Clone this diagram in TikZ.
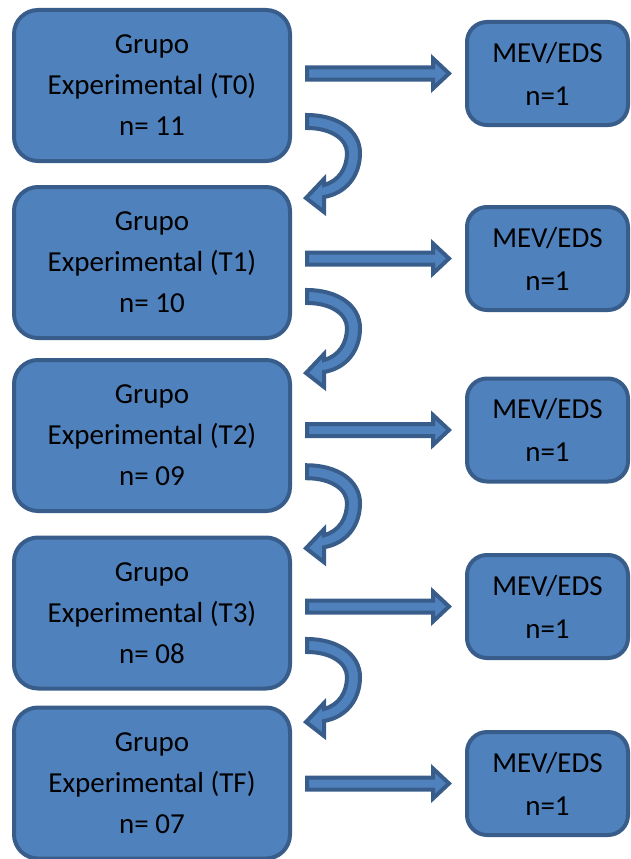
\documentclass[tikz,border=0pt]{standalone}
\usepackage{fontspec}
\setmainfont{Carlito}
\usetikzlibrary{calc}
\definecolor{boxfill}{HTML}{4F81BD}
\definecolor{boxline}{HTML}{385D8A}

\begin{document}
\begin{tikzpicture}[x=1pt,y=-1pt,
		grupo/.style={rectangle,rounded corners=24pt,draw=boxline,fill=boxfill,line width=4pt,
			minimum width=276pt,minimum height=151pt,align=center,inner sep=0pt,
			font=\fontsize{29}{41}\selectfont},
		mev/.style={rectangle,rounded corners=20pt,draw=boxline,fill=boxfill,line width=4pt,
			minimum width=161pt,minimum height=103pt,align=center,inner sep=0pt,
			font=\fontsize{29}{43}\selectfont},
		blockarrow/.style={draw=boxline,fill=boxfill,line width=4pt,line join=miter},
		curvearrow/.style={draw=boxline,fill=boxfill,line width=4pt,line join=miter}]
		\useasboundingbox (0,0) rectangle (631,859);

		\node (g1) [grupo] at (152,85.5) {Grupo\\Experimental (T0)\\n= 11};
		\node (g2) [grupo] at (152,262.5) {Grupo\\Experimental (T1)\\n= 10};
		\node (g3) [grupo] at (152,435.5) {Grupo\\Experimental (T2)\\n= 09};
		\node (g4) [grupo] at (152,613) {Grupo\\Experimental (T3)\\n= 08};
		\node (g5) [grupo] at (152,783) {Grupo\\Experimental (TF)\\n= 07};

		\node (m1) [mev] at (547.5,73.5) {MEV/EDS\\n=1};
		\node (m2) [mev] at (547.5,258.5) {MEV/EDS\\n=1};
		\node (m3) [mev] at (547.5,430) {MEV/EDS\\n=1};
		\node (m4) [mev] at (547.5,606.5) {MEV/EDS\\n=1};
		\node (m5) [mev] at (547.5,783.5) {MEV/EDS\\n=1};

		% block arrows to MEV/EDS
		\foreach \i in {1,...,5}{
			\path ([xshift=15pt]g\i.east |- m\i.west) coordinate (s) ([xshift=-16pt]m\i.west) coordinate (t);
			\draw[blockarrow] ($(s)+(0,-6)$) -- ($(t)+(-16,-6)$) -- ($(t)+(-16,-15)$) -- (t)
				-- ($(t)+(-16,15)$) -- ($(t)+(-16,6)$) -- ($(s)+(0,6)$) -- cycle;
		}

		% curved arrows between groups
		\foreach \a/\b in {g1/g2,g2/g3,g3/g4,g4/g5}{
			\path ($(\a.south)!0.5!(\b.north)$) coordinate (mid);
			\draw[curvearrow, shift={($(\a.east |- mid)+(13,-61)$)}]
				(2,2) .. controls (32,2) and (55,17) .. (55,40) .. controls (55,62) and (42,80) .. (19,84)
				-- (19,99) -- (1,85) -- (19,66) -- (19,72)
				.. controls (34,68) and (42,55) .. (42,40) .. controls (42,26) and (26,15) .. (2,15) -- cycle;
		}
	\end{tikzpicture}
\end{document}
